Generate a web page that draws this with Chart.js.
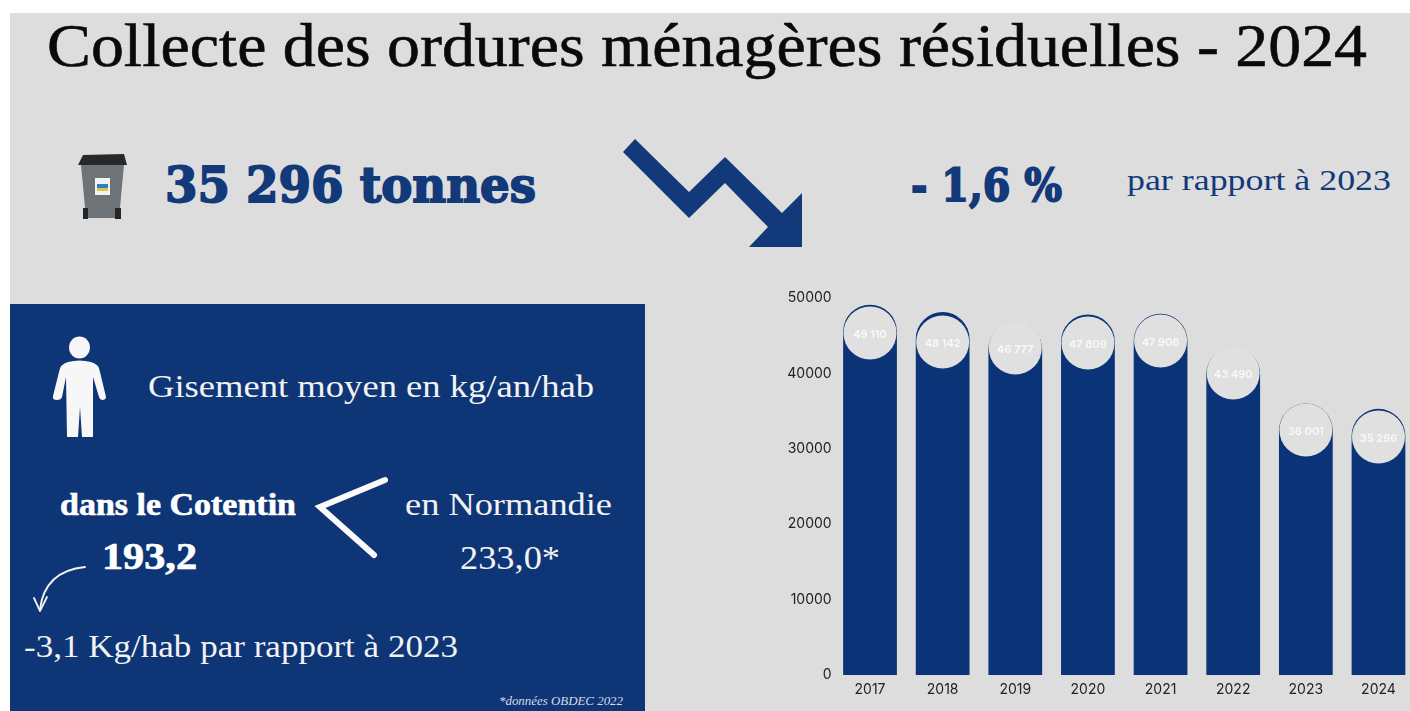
<!DOCTYPE html>
<html lang="fr">
<head>
<meta charset="utf-8">
<title>Collecte des ordures ménagères résiduelles - 2024</title>
<script src="https://cdn.jsdelivr.net/npm/chart.js@4"></script>
<style>
    html, body { margin: 0; padding: 0; background: #fff; overflow: hidden; }
    #page { position: absolute; left: 0; top: 0; width: 1410px; height: 711px; overflow: hidden; }
    #deco { position: absolute; left: 0; top: 0; }
    #chartBox { position: absolute; left: 770px; top: 280px; width: 650px; height: 431px; }
    .serif { font-family: "Liberation Serif", serif; }
    .heavy { font-family: "DejaVu Serif", serif; font-weight: 700; stroke: #12397a; stroke-width: 1.8px; }
</style>
</head>
<body>
<div id="page">
    <svg id="deco" width="1410" height="711" xmlns="http://www.w3.org/2000/svg">
        <rect x="10" y="13" width="1400" height="698" fill="#dddddd"/>
        <rect x="10" y="304" width="635" height="407" fill="#0e3576"/>

        <text class="serif" x="47" y="66" font-size="62" fill="#0a0a0a" stroke="#0a0a0a" stroke-width="0.6" textLength="1320" lengthAdjust="spacingAndGlyphs">Collecte des ordures ménagères résiduelles - 2024</text>

        <!-- poubelle -->
        <path d="M83 155 L124 154 L127 165 L78 165 Z" fill="#26282b"/>
        <path d="M81 165 L124 165 L119 218 L86 218 Z" fill="#6d7377"/>
        <rect x="83" y="208" width="5" height="11" fill="#232528"/>
        <rect x="115" y="208" width="6" height="11" fill="#232528"/>
        <rect x="95" y="178" width="15" height="17" fill="#f2f2f2"/>
        <rect x="97" y="184" width="11" height="4" fill="#2f7fc1"/>
        <rect x="97" y="188" width="11" height="3" fill="#d7c84a"/>

        <text class="heavy" x="165" y="202" font-size="48" fill="#12397a" textLength="371" lengthAdjust="spacingAndGlyphs">35 296 tonnes</text>

        <!-- fleche de baisse -->
        <path d="M635 139 L623 152 L689 218 L725 183 L768 227 L749 247 L802 247 L802 193 L782 213 L725 157 L689 192 Z" fill="#12397a"/>

        <text class="heavy" x="911" y="201" font-size="44" fill="#12397a" textLength="151" lengthAdjust="spacingAndGlyphs">- 1,6 %</text>
        <text class="serif" x="1127" y="190" font-size="30" fill="#12397a" textLength="264" lengthAdjust="spacingAndGlyphs">par rapport à 2023</text>

        <!-- personnage -->
        <ellipse cx="79.5" cy="347.5" rx="10.5" ry="11" fill="#f7f7f7"/>
        <path d="M68 362 Q79.5 359 91 362 Q99 364 100 372 L106 397 Q106 400 102 400 Q100 400 99 397 L93 377 L93 437 L82 437 L80 407 L78 437 L67 437 L66 377 L62 397 Q61 400 57 400 Q52 400 53 396 L59 372 Q60 364 68 362 Z" fill="#f7f7f7"/>

        <text class="serif" x="148" y="397" font-size="32" fill="#f2f2f2" textLength="446" lengthAdjust="spacingAndGlyphs">Gisement moyen en kg/an/hab</text>
        <text class="serif" x="60" y="515" font-size="31" font-weight="700" fill="#ffffff" stroke="#ffffff" stroke-width="0.6" textLength="236" lengthAdjust="spacingAndGlyphs">dans le Cotentin</text>
        <text class="serif" x="405" y="515" font-size="31" fill="#f2f2f2" textLength="207" lengthAdjust="spacingAndGlyphs">en Normandie</text>
        <text class="serif" x="102" y="569" font-size="37" font-weight="700" fill="#ffffff" stroke="#ffffff" stroke-width="0.7" textLength="95" lengthAdjust="spacingAndGlyphs">193,2</text>
        <text class="serif" x="460" y="569" font-size="34" fill="#f2f2f2" textLength="100" lengthAdjust="spacingAndGlyphs">233,0*</text>
        <text class="serif" x="24" y="657" font-size="32" fill="#f2f2f2" textLength="434" lengthAdjust="spacingAndGlyphs">-3,1 Kg/hab par rapport à 2023</text>
        <text class="serif" x="499" y="705" font-size="11.5" font-style="italic" fill="#d8dde6" textLength="124" lengthAdjust="spacingAndGlyphs">*données OBDEC 2022</text>

        <!-- signe inferieur et petite fleche -->
        <path d="M385 480 L320 507 L374 555" fill="none" stroke="#fbfbfb" stroke-width="6" stroke-linecap="round" stroke-linejoin="miter"/>
        <path d="M85 567 Q45 571 40 609" fill="none" stroke="#f2f2f2" stroke-width="1.8" stroke-linecap="round"/>
        <path d="M34 598 L40 611 L47 597" fill="none" stroke="#f2f2f2" stroke-width="1.8" stroke-linecap="round" stroke-linejoin="round"/>
    </svg>
    <div id="chartBox"><canvas id="tonnageChart"></canvas></div>
</div>

<script>
const years = ['2017', '2018', '2019', '2020', '2021', '2022', '2023', '2024'];
const tonnages = [49110, 48142, 46777, 47809, 47906, 43490, 36001, 35296];
// centre of the pale disc that sits on each bar, read on the same axis
const discCentres = [45360, 44160, 43370, 44030, 44300, 40050, 32490, 31570];
const yTicks = [0, 10000, 20000, 30000, 40000, 50000];

const barBlue = '#0b3378';
const discGrey = '#e0e0e0';

const discLabels = {
    id: 'discLabels',
    afterDatasetsDraw(chart) {
        const ctx = chart.ctx;
        const points = chart.getDatasetMeta(1).data;
        ctx.save();
        ctx.font = '600 11px Inter, sans-serif';
        ctx.fillStyle = 'rgba(255,255,255,0.8)';
        ctx.textAlign = 'center';
        ctx.textBaseline = 'middle';
        points.forEach(function (pt, i) {
            const txt = String(tonnages[i]).replace(/\B(?=(\d{3})+$)/g, ' ');
            ctx.fillText(txt, pt.x, pt.y + 2);
        });
        ctx.restore();
    }
};

new Chart(document.getElementById('tonnageChart'), {
    type: 'bar',
    data: {
        labels: years,
        datasets: [{
            label: 'Tonnes',
            data: tonnages,
            backgroundColor: barBlue,
            barPercentage: 0.74,
            categoryPercentage: 1,
            borderRadius: { topLeft: 27, topRight: 27 },
            borderSkipped: false,
            order: 2
        }, {
            type: 'line',
            label: 'Disque',
            data: discCentres,
            showLine: false,
            clip: false,
            pointRadius: 26.5,
            pointBackgroundColor: discGrey,
            pointBorderWidth: 0,
            order: 1
        }]
    },
    options: {
        responsive: true,
        maintainAspectRatio: false,
        animation: false,
        // the big disc points would otherwise push the chart area inwards
        layout: { autoPadding: false, padding: { top: 18, right: 5.2, left: 0, bottom: 0 } },
        plugins: {
            legend: { display: false },
            tooltip: { enabled: false }
        },
        scales: {
            x: {
                grid: { display: false, drawTicks: false },
                border: { display: false },
                ticks: { color: '#222222', font: { family: 'Inter', size: 14 }, padding: 6, maxRotation: 0 },
                afterFit: function (scale) { scale.height = 36; }
            },
            y: {
                min: 0,
                max: 50000,
                afterBuildTicks: function (scale) {
                    scale.ticks = yTicks.map(function (v) { return { value: v }; });
                },
                grid: { display: false, drawTicks: false },
                border: { display: false },
                ticks: {
                    color: '#222222',
                    font: { family: 'Inter', size: 14 },
                    padding: 2,
                    callback: function (v) { return String(v); }
                },
                afterFit: function (scale) { scale.width = 63.7; }
            }
        }
    },
    plugins: [discLabels]
});
</script>
</body>
</html>
